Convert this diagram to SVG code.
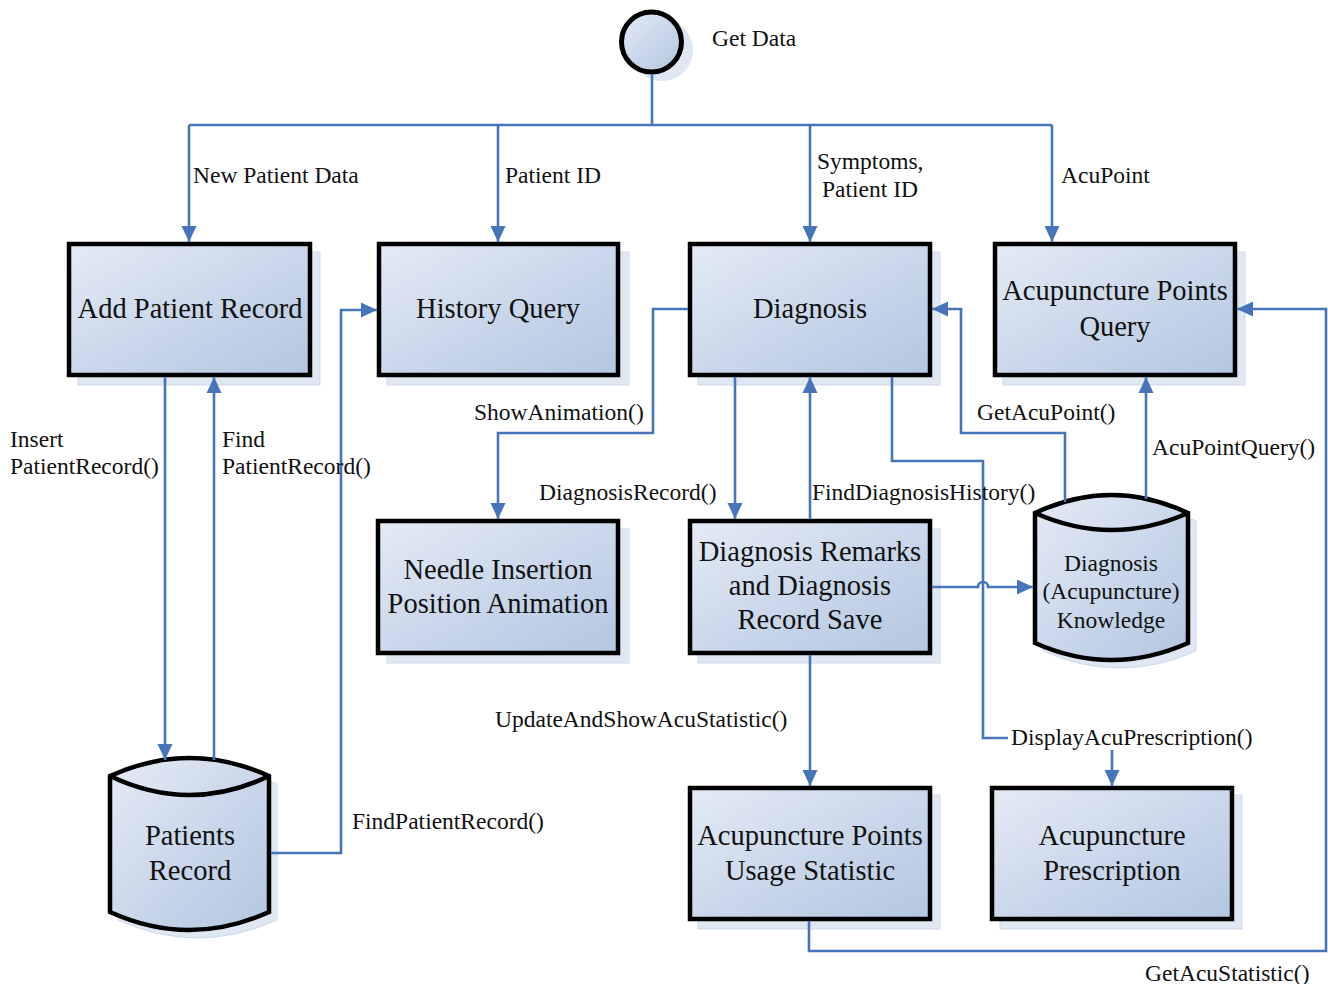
<svg xmlns="http://www.w3.org/2000/svg" width="1328" height="984" viewBox="0 0 1328 984">
<defs>
<linearGradient id="fillG" x1="0" y1="0" x2="1" y2="1">
<stop offset="0" stop-color="#e4ebf5"/>
<stop offset="0.6" stop-color="#c6d4e9"/>
<stop offset="1" stop-color="#b3c6e1"/>
</linearGradient>
<marker id="arr" markerUnits="userSpaceOnUse" markerWidth="17" markerHeight="17" viewBox="0 0 17 17" refX="16" refY="8.5" orient="auto">
<path d="M0,1 L16,8.5 L0,16 z" fill="#4874bc"/>
</marker>
<style>
.box{fill:url(#fillG);stroke:#000;stroke-width:4.5}
.shd{fill:#dfe7f2;stroke:#cfdaeb;stroke-width:1}
.nt{font-family:"Liberation Serif","Times New Roman",serif;font-size:28.5px;fill:#111;text-anchor:middle}
.ct{font-family:"Liberation Serif","Times New Roman",serif;font-size:23.5px;fill:#111;text-anchor:middle}
.lb{font-family:"Liberation Serif","Times New Roman",serif;font-size:23.5px;fill:#111}
.cn{fill:none;stroke:#4874bc;stroke-width:2.6}
.ca{fill:none;stroke:#4874bc;stroke-width:2.6;marker-end:url(#arr)}
</style>
</defs>
<rect width="1328" height="984" fill="#fff"/>

<g id="getData">
<circle cx="662" cy="50" r="31" fill="#dfe7f2"/>
<circle cx="651.5" cy="42" r="30" fill="url(#fillG)" stroke="#000" stroke-width="5"/>
</g>

<g id="addPatientRecord">
<rect class="shd" x="78" y="252" width="242" height="133"/>
<rect class="box" x="69" y="244" width="241" height="131"/>
<text class="nt" x="190" y="318">Add Patient Record</text>
</g>

<g id="historyQuery">
<rect class="shd" x="387" y="252" width="242" height="133"/>
<rect class="box" x="379" y="244" width="239" height="131"/>
<text class="nt" x="498" y="318">History Query</text>
</g>

<g id="diagnosis">
<rect class="shd" x="698" y="252" width="242" height="133"/>
<rect class="box" x="690" y="244" width="240" height="131"/>
<text class="nt" x="810" y="318">Diagnosis</text>
</g>

<g id="acupuncturePointsQuery">
<rect class="shd" x="1003" y="252" width="242" height="133"/>
<rect class="box" x="995" y="244" width="240" height="131"/>
<text class="nt" x="1115" y="300">Acupuncture Points</text>
<text class="nt" x="1115" y="336">Query</text>
</g>

<g id="needleInsertion">
<rect class="shd" x="387" y="529" width="242" height="134"/>
<rect class="box" x="378" y="521" width="240" height="132"/>
<text class="nt" x="498" y="579">Needle Insertion</text>
<text class="nt" x="498" y="613">Position Animation</text>
</g>

<g id="diagnosisRemarks">
<rect class="shd" x="698" y="529" width="242" height="134"/>
<rect class="box" x="690" y="521" width="240" height="132"/>
<text class="nt" x="810" y="561">Diagnosis Remarks</text>
<text class="nt" x="810" y="595">and Diagnosis</text>
<text class="nt" x="810" y="629">Record Save</text>
</g>

<g id="usageStatistic">
<rect class="shd" x="698" y="795" width="242" height="134"/>
<rect class="box" x="690" y="788" width="240" height="131"/>
<text class="nt" x="810" y="845">Acupuncture Points</text>
<text class="nt" x="810" y="880">Usage Statistic</text>
</g>

<g id="acupuncturePrescription">
<rect class="shd" x="1000" y="795" width="242" height="134"/>
<rect class="box" x="992" y="788" width="240" height="131"/>
<text class="nt" x="1112" y="845">Acupuncture</text>
<text class="nt" x="1112" y="880">Prescription</text>
</g>

<g id="patientsRecord">
<path class="shd" d="M118,784 Q197.5,748 277,784 V920 Q197.5,956 118,920 Z"/>
<path class="box" d="M110,776 Q189.5,740 269,776 V912 Q189.5,948 110,912 Z"/>
<path d="M110,776 Q189.5,814 269,776" fill="none" stroke="#000" stroke-width="4.5"/>
<text class="nt" x="190" y="845">Patients</text>
<text class="nt" x="190" y="880">Record</text>
</g>

<g id="diagnosisKnowledge">
<path class="shd" d="M1043,521 Q1119.5,485 1196,521 V651 Q1119.5,685 1043,651 Z"/>
<path class="box" d="M1035,513 Q1111.5,477 1188,513 V643 Q1111.5,677 1035,643 Z"/>
<path d="M1035,513 Q1111.5,547 1188,513" fill="none" stroke="#000" stroke-width="4.5"/>
<text class="ct" x="1111" y="571">Diagnosis</text>
<text class="ct" x="1111" y="599">(Acupuncture)</text>
<text class="ct" x="1111" y="628">Knowledge</text>
</g>

<g id="connectors">
<path class="cn" d="M652,74 V125"/>
<path class="cn" d="M189,125 H1052"/>
<path class="ca" d="M189,125 V242"/>
<path class="ca" d="M498,125 V242"/>
<path class="ca" d="M810,125 V242"/>
<path class="ca" d="M1052,125 V242"/>
<path class="ca" d="M165,377 V760"/>
<path class="ca" d="M214,760 V377"/>
<path class="ca" d="M271,853 H341 V310 H377"/>
<path class="ca" d="M688,309 H653 V433 H498 V519"/>
<path class="ca" d="M735,377 V519"/>
<path class="ca" d="M810,519 V377"/>
<path class="cn" d="M892,377 V461 H983 V738 H1008"/>
<path class="ca" d="M1112,750 V786"/>
<path class="ca" d="M932,587 H978 A5,5 0 0 1 988,587 H1033"/>
<path class="ca" d="M1065,502 V433 H961 V309 H932"/>
<path class="ca" d="M1146,499 V377"/>
<path class="ca" d="M810,655 V786"/>
<path class="ca" d="M809,921 V951 H1326 V309 H1237"/>
</g>

<g id="labels">
<text class="lb" x="712" y="46">Get Data</text>
<text class="lb" x="193" y="183">New Patient Data</text>
<text class="lb" x="505" y="183">Patient ID</text>
<text class="lb" x="817" y="169">Symptoms,</text>
<text class="lb" x="822" y="197">Patient ID</text>
<text class="lb" x="1061" y="183">AcuPoint</text>
<text class="lb" x="10" y="447">Insert</text>
<text class="lb" x="10" y="474">PatientRecord()</text>
<text class="lb" x="222" y="447">Find</text>
<text class="lb" x="222" y="474">PatientRecord()</text>
<text class="lb" x="474" y="420">ShowAnimation()</text>
<text class="lb" x="977" y="420">GetAcuPoint()</text>
<text class="lb" x="1152" y="455">AcuPointQuery()</text>
<text class="lb" x="539" y="500">DiagnosisRecord()</text>
<text class="lb" x="812" y="500">FindDiagnosisHistory()</text>
<text class="lb" x="495" y="727">UpdateAndShowAcuStatistic()</text>
<text class="lb" x="1011" y="745">DisplayAcuPrescription()</text>
<text class="lb" x="352" y="829">FindPatientRecord()</text>
<text class="lb" x="1145" y="981">GetAcuStatistic()</text>
</g>
</svg>
